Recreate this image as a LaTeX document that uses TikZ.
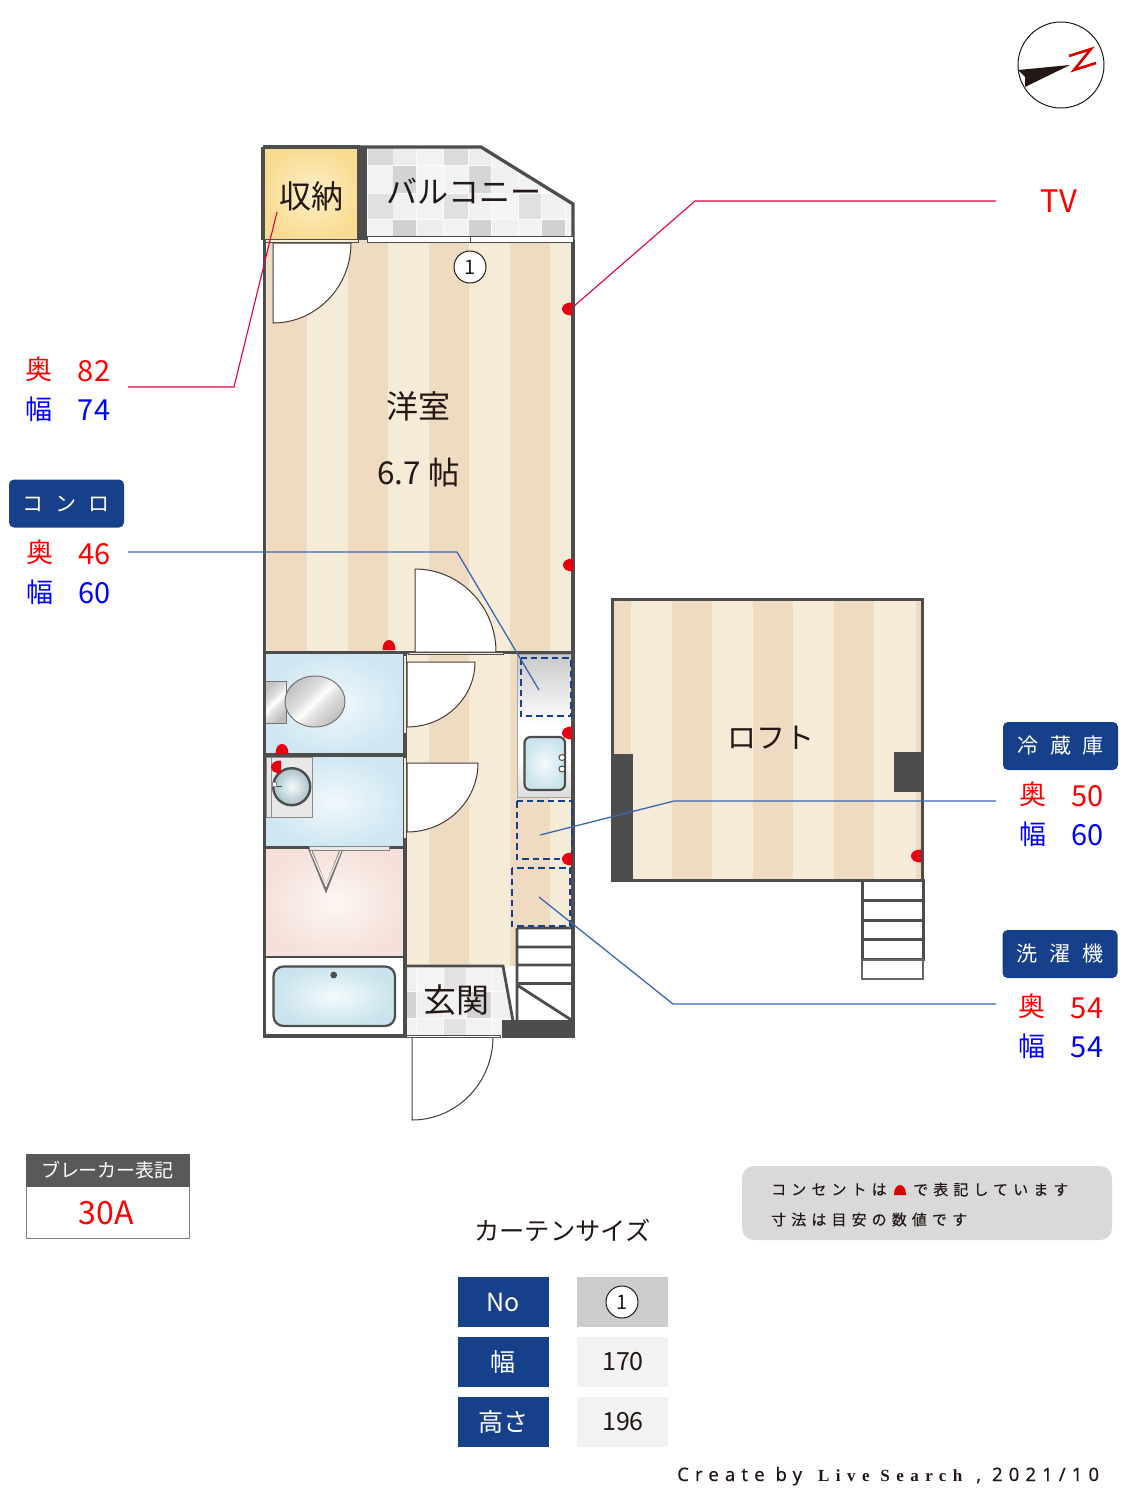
\documentclass[tikz,border=0pt]{standalone}
\usepackage{fontspec}
\setmainfont{Noto Sans CJK JP}
\newfontfamily\trackfont[LetterSpace=34,FakeBold=0.35]{Noto Sans CJK JP}
\newfontfamily\creditsans[LetterSpace=33,FakeBold=0.3]{Noto Sans}
\newfontfamily\creditserif[LetterSpace=38]{Liberation Serif}
\usetikzlibrary{calc}
\definecolor{walls}{HTML}{4D4D4D}
\definecolor{stripeA}{HTML}{F6EBD7}
\definecolor{stripeB}{HTML}{EFDBC1}
\definecolor{navy}{HTML}{17408B}
\definecolor{leadR}{HTML}{E6003C}
\definecolor{leadB}{HTML}{3A68B0}
\definecolor{ink}{HTML}{231815}
\definecolor{socket}{HTML}{E60012}
\definecolor{skyA}{HTML}{F0F8FC}
\definecolor{skyB}{HTML}{CFE7F2}
\definecolor{tubA}{HTML}{F4FAFC}
\definecolor{tubB}{HTML}{C9E4EC}
\definecolor{pinkA}{HTML}{FCF7F3}
\definecolor{pinkB}{HTML}{F5E1D9}
\definecolor{goldA}{HTML}{FCEFC8}
\definecolor{goldB}{HTML}{F9DC92}
\pgfdeclarehorizontalshading{metal}{100bp}{color(0bp)=(black!24); color(25bp)=(black!24); color(42bp)=(black!12); color(50bp)=(white); color(58bp)=(black!12); color(75bp)=(black!26); color(100bp)=(black!26)}
\pgfdeclareverticalshading{counter}{100bp}{color(0bp)=(black!14); color(25bp)=(black!14); color(38bp)=(white); color(50bp)=(white); color(60bp)=(black!8); color(75bp)=(black!22); color(100bp)=(black!22)}
\newcommand\fs[1]{\fontsize{#1}{#1}\selectfont}
% quarter-circle door leaf: hinge x, y, radius x, radius y
\newcommand\qdoor[4]{\draw[doorleaf] (#1,#2) -- (#1,#2+#4) .. controls (#1+0.552*#3,#2+#4) and (#1+#3,#2+0.552*#4) .. (#1+#3,#2) -- cycle;}
% socket with flat side on the right: x of flat, y centre
\newcommand\sockR[2]{\fill[socket] (#1,#2-6.5) .. controls (#1-6,#2-6.5) and (#1-10,#2-4) .. (#1-10,#2) .. controls (#1-10,#2+4) and (#1-6,#2+6.5) .. (#1,#2+6.5) -- cycle;}
% socket with flat side at the bottom: x centre, y of flat
\newcommand\sockB[2]{\fill[socket] (#1-6.5,#2) .. controls (#1-6.5,#2-6) and (#1-4,#2-10) .. (#1,#2-10) .. controls (#1+4,#2-10) and (#1+6.5,#2-6) .. (#1+6.5,#2) -- cycle;}
\tikzset{
  wall/.style={draw=walls,line width=3.3pt},
  thinwall/.style={draw=walls,line width=2.8pt},
  doorleaf/.style={draw=ink!85,fill=white,line width=1pt},
  slab/.style={draw=walls,fill=stripeA,line width=1pt},
  dashbox/.style={draw=navy,line width=2.3pt,dash pattern=on 6.5pt off 4pt},
  leadred/.style={draw=leadR,line width=1.1pt},
  leadblue/.style={draw=leadB,line width=1.3pt},
  room/.style={text=ink,inner sep=0pt},
  dimred/.style={text=red,inner sep=0pt},
  dimblue/.style={text=blue,inner sep=0pt},
  badge/.style={fill=navy,text=white,rounded corners=5pt,minimum width=115pt,minimum height=48pt,inner sep=0pt,font=\fs{21}},
  cellhead/.style={fill=navy,text=white,minimum width=91pt,minimum height=50pt,inner sep=0pt,font=\fs{25}},
  cellval/.style={fill=black!5,text=ink,minimum width=91pt,minimum height=50pt,inner sep=0pt,font=\fs{25}},
  ringmark/.style={circle,draw=ink,fill=white,line width=1pt,minimum size=32pt,inner sep=0pt,text=ink,font=\fs{20}},
  stairs/.style={draw=walls,fill=white,line width=3pt},
}
\begin{document}
\begin{tikzpicture}[x=1pt,y=-1pt]
\useasboundingbox (0,0) rectangle (1125,1500);
\fill[white] (0,0) rectangle (1125,1500);

% ---------- main floor stripes
\fill[stripeA] (264,240) rectangle (573,652);
\fill[stripeA] (405,652) rectangle (573,966);
\foreach \s in {267,348,429,510} \fill[stripeB] (\s,240) rectangle (\s+40,652);
\foreach \s in {429,510} \fill[stripeB] (\s,652) rectangle (\s+40,966);

% ---------- closet
\fill[inner color=goldA,outer color=goldB] (263,147) rectangle (360,240);

% ---------- balcony tiles
\begin{scope}
\clip (366,148) -- (481,148) -- (573,204) -- (573,236) -- (366,236) -- cycle;
\fill[black!2] (366,146) rectangle (575,238);
\foreach \xa/\xb/\ya/\yb/\sh in {
 368/393/147/165/15, 393/416/147/165/7, 417/443/147/165/5, 444/468/147/165/14, 469/491/147/165/7, 492/518/147/165/5,
 368/393/166/193/5, 393/416/166/193/17, 417/443/166/193/4, 444/468/166/193/5, 469/491/166/193/16, 492/518/166/193/6, 519/541/166/193/5,
 368/393/194/219/12, 393/416/194/219/6, 417/443/194/219/5, 444/468/194/219/12, 469/491/194/219/6, 492/518/194/219/4, 519/541/194/219/12, 542/565/194/219/6, 566/575/194/219/5,
 368/393/220/236/5, 393/416/220/236/18, 417/443/220/236/7, 444/468/220/236/5, 469/491/220/236/18, 492/518/220/236/6, 519/541/220/236/5, 542/565/220/236/18, 566/575/220/236/5
 }{\fill[black!\sh] (\xa,\ya) rectangle (\xb,\yb);}
\end{scope}
\draw[wall] (358,147) -- (481,147) -- (573,204) -- (573,240);
\draw[wall] (263,147) -- (360,147);
\draw[wall] (263,147) -- (263,240);
\fill[walls] (357,146) rectangle (367,240);

% ---------- wet rooms
\fill[inner color=skyA,outer color=skyB] (264,652) rectangle (405,755);
\fill[inner color=skyA,outer color=skyB] (264,755) rectangle (405,848);
\fill[inner color=pinkA,outer color=pinkB] (264,848) rectangle (405,957);
\fill[white] (264,957) rectangle (405,1036);

% toilet
\draw[draw=black!55,line width=1pt,shading=metal,shading angle=-45] (264,681) rectangle (286,723);
\draw[draw=black!55,line width=1pt,shading=metal,shading angle=-45] (315,701.5) ellipse [x radius=30,y radius=25.5];

% wash basin
\fill[black!9] (266,757) rectangle (312,817);
\draw[black!45,line width=.8pt] (266,757) rectangle (312,817) (271.5,757) -- (271.5,817);
\draw[walls,line width=2.4pt,inner color=tubA,outer color=tubB!85!black] (291.7,786.7) circle [radius=18.5];
\draw[walls,line width=1.4pt] (274,786.7) -- (282,786.7);
\fill[white,draw=black!45,line width=.5pt] (272,782) rectangle (276,786);

% tub
\draw[walls,line width=2.2pt,rounded corners=10pt,inner color=tubA,outer color=tubB] (273.5,966.5) rectangle (395,1026);
\fill[walls] (333.7,975) circle [radius=3.4];

% folding door
\draw[black!55,line width=3.4pt,line join=miter] (309.5,848) -- (326,889) -- (342,848);
\draw[pinkB!60!white,line width=1.2pt,line join=miter] (309.5,848) -- (326,886) -- (342,848);

% ---------- kitchen counter
\draw[draw=black!35,line width=1pt,shading=counter] (517,654) rectangle (571.5,797);
\draw[walls,line width=2.2pt,rounded corners=6pt,inner color=tubA,outer color=tubB] (524.5,737) rectangle (565,790);
\draw[walls,fill=white,line width=1pt] (562,757.5) circle [radius=3] (562,769) circle [radius=3];

% ---------- genkan
\begin{scope}
\clip (406,966) -- (503,966) -- (514,1021) -- (503,1036) -- (406,1036) -- cycle;
\fill[black!2] (406,960) rectangle (520,1040);
\foreach \xa/\xb/\ya/\yb/\sh in {
 407/416/968/991/6, 417/443/968/991/4, 444/466/968/991/11, 467/491/968/991/5, 492/516/968/991/5,
 407/416/992/1018/17, 417/443/992/1018/6, 444/466/992/1018/5, 467/491/992/1018/17, 492/516/992/1018/6,
 407/416/1019/1036/5, 417/443/1019/1036/5, 444/466/1019/1036/11, 467/491/1019/1036/5, 492/516/1019/1036/4
 }{\fill[black!\sh] (\xa,\ya) rectangle (\xb,\yb);}
\end{scope}
\draw[thinwall] (406,966) -- (503,966) -- (513,1021);

% ---------- kitchen stairs
\fill[white] (517,928) rectangle (573,1020);
\draw[walls,line width=2.8pt] (517,928) -- (573,928) (517,947) -- (573,947) (517,965) -- (573,965) (517,983.5) -- (573,983.5) (517,928) -- (517,1021) (517,985) -- (573,1021);
\fill[walls] (502,1020) rectangle (575,1038);

% ---------- walls of the main floor
\draw[wall] (264.5,240) -- (264.5,1036);
\draw[wall] (573,240) -- (573,1036);
\draw[wall] (264,652.5) -- (573,652.5);
\draw[wall] (264,755) -- (405,755);
\draw[wall] (264,847.5) -- (405,847.5);
\draw[thinwall] (264,957) -- (405,957);
\draw[wall] (405,652) -- (405,1036);
\draw[wall] (262.5,1036) -- (406,1036);
\draw[draw=black!50,fill=white!92!black,line width=.8pt] (309,846) rectangle (389,850);

% ---------- doors
\qdoor{273}{243}{78}{80}
\qdoor{415}{652}{81}{-83}
\qdoor{407}{662}{68}{65}
\qdoor{407}{763}{71}{69}
\qdoor{412}{1037}{81}{83}
\draw[slab] (265,239.5) rectangle (358,242);
\draw[slab] (408,652) rectangle (503,654.5);
\draw[slab] (403.8,655) rectangle (406.8,733);
\draw[slab] (403.8,757) rectangle (406.8,838);
\draw[draw=walls,fill=white,line width=1pt] (406,1035) rectangle (500,1037.5);

% window
\draw[draw=walls,fill=white,line width=.9pt] (367,236) rectangle (573,242);
\draw[walls,line width=.9pt] (470,236) -- (470,242);

% ---------- loft
\fill[stripeA] (612,598) rectangle (924,881);
\foreach \s in {591,672,753,834,916} \fill[stripeB] ({max(\s,613)},598) rectangle ({min(\s+40,923)},881);
\draw[wall] (612.5,599.5) rectangle (922.5,880.5);
\fill[walls] (611,754) rectangle (633,882);
\fill[walls] (894,752) rectangle (924,792);
\draw[stairs] (862,880) rectangle (923,900) (862,900) rectangle (923,920) (862,920) rectangle (923,939.5) (862,939.5) rectangle (923,959.5);
\draw[draw=black!60,fill=white,line width=2pt] (862,959.5) rectangle (923,979);

% ---------- dashed appliance boxes
\draw[dashbox] (520.7,658) rectangle (570.7,716);
\draw[dashbox] (517,801) rectangle (572,859);
\draw[dashbox] (512,868) rectangle (570,926);

% ---------- sockets
\sockR{572}{309}
\sockR{573}{565}
\sockB{389}{650}
\sockR{572}{733}
\sockB{282}{754}
\sockR{281}{767}
\sockR{572}{859}
\sockR{921}{856}

% ---------- compass
\draw[ink,line width=1pt] (1061,65) circle [radius=43];
\fill[ink] (1070,65) -- (1018,70) -- (1025,77) -- (1025,87) -- cycle;
\draw[red!85!black,line width=2.6pt,line join=miter] (1069,56) -- (1091,49) -- (1074,70) -- (1096,63);

% ---------- room names
\node[room,font=\fs{32}] (closet) at (311.5,196) {収納};
\node[room,font=\fs{31}] (balcony) at (464,191) {バルコニー};
\node[ringmark] (ring) at (470,267) {1};
\node[room,font=\fs{32}] (western) at (418,406) {洋室};
\node[room,font=\fs{31.5}] (size) at (418.5,473) {6.7 帖};
\node[room,font=\fs{33}] (entry) at (456,1000) {玄関};
\node[room,font=\fs{29}] (loft) at (770.5,738) {ロフト};

% ---------- dimension labels
\node[dimred,font=\fs{27}] (a1) at (39,369) {奥};
\node[dimred,font=\fs{29}] (a2) at (94,371) {82};
\node[dimblue,font=\fs{27}] (a3) at (38.5,409) {幅};
\node[dimblue,font=\fs{29}] (a4) at (94,410) {74};

\node[badge] (stove) at (66.5,503.5) {コ\hspace{12pt}ン\hspace{12pt}ロ};
\node[dimred,font=\fs{27}] (b1) at (40,552) {奥};
\node[dimred,font=\fs{29}] (b2) at (94.5,554) {46};
\node[dimblue,font=\fs{27}] (b3) at (39.5,592) {幅};
\node[dimblue,font=\fs{29}] (b4) at (94.5,593) {60};

\node[room,text=red,font=\fs{31}] (tv) at (1059,201) {TV};

\node[badge] (fridge) at (1060.5,746) {冷\hspace{12pt}蔵\hspace{12pt}庫};
\node[dimred,font=\fs{27}] (c1) at (1033,794) {奥};
\node[dimred,font=\fs{29}] (c2) at (1087.5,796) {50};
\node[dimblue,font=\fs{27}] (c3) at (1032.5,834) {幅};
\node[dimblue,font=\fs{29}] (c4) at (1087.5,835) {60};

\node[badge] (washer) at (1060,954) {洗\hspace{12pt}濯\hspace{12pt}機};
\node[dimred,font=\fs{27}] (d1) at (1032,1006) {奥};
\node[dimred,font=\fs{29}] (d2) at (1087,1008) {54};
\node[dimblue,font=\fs{27}] (d3) at (1031.5,1046) {幅};
\node[dimblue,font=\fs{29}] (d4) at (1087,1047) {54};

% ---------- leaders
\coordinate (k1) at (128,387);
\coordinate (k2) at (234,387);
\coordinate (k3) at (277,212);
\draw[leadred] (k1) -- (k2) -- (k3);
\coordinate (t1) at (573,307);
\coordinate (t2) at (695,201);
\coordinate (t3) at (996,201);
\draw[leadred] (t1) -- (t2) -- (t3);
\coordinate (s1) at (128,552);
\coordinate (s2) at (457,552);
\coordinate (s3) at (539,690);
\draw[leadblue] (s1) -- (s2) -- (s3);
\coordinate (f1) at (996,801);
\coordinate (f2) at (674,801);
\coordinate (f3) at (540,835);
\draw[leadblue] (f1) -- (f2) -- (f3);
\coordinate (w1) at (996,1004);
\coordinate (w2) at (673,1004);
\coordinate (w3) at (539,897);
\draw[leadblue] (w1) -- (w2) -- (w3);

% ---------- breaker box
\draw[draw=black!50,fill=white,line width=1pt] (26.5,1154.5) rectangle (189,1238);
\fill[black!65] (26,1154) rectangle (189.5,1187);
\node[text=white,inner sep=0pt,font=\fs{19}] (brk) at (107.5,1170.5) {ブレーカー表記};
\node[text=red,inner sep=0pt,font=\fs{32}] (amp) at (106,1213) {30A};

% ---------- note
\fill[black!15,rounded corners=12pt] (742,1166) rectangle (1112,1240);
\node[anchor=west,text=ink,inner sep=0pt,font=\fs{15}\trackfont] (n1) at (771,1189.5) {コンセントは};
\fill[red!85!black] (894,1195) .. controls (894,1188) and (897,1185) .. (900,1185) .. controls (903,1185) and (906,1188) .. (906,1195) -- cycle;
\node[anchor=west,text=ink,inner sep=0pt,font=\fs{15}\trackfont] (n2) at (913,1189.5) {で表記しています};
\node[anchor=west,text=ink,inner sep=0pt,font=\fs{15}\trackfont] (n3) at (771,1219.5) {寸法は目安の数値です};

% ---------- curtain table
\node[room,font=\fs{25.3}] (cttl) at (562.5,1230) {カーテンサイズ};
\node[cellhead] (h1) at (503,1302) {No};
\node[cellhead] (h2) at (503,1361.5) {幅};
\node[cellhead] (h3) at (503,1421.5) {高さ};
\node[cellval,fill=black!20] (v1) at (622,1302) {};
\node[ringmark] (v1r) at (622,1302) {1};
\node[cellval] (v2) at (622,1361.5) {\hspace{2pt}170};
\node[cellval] (v3) at (622,1421.5) {\hspace{2pt}196};

% ---------- credit
\node[anchor=base west,text=ink,inner sep=0pt,font=\fs{18.5}\creditsans] (cr1) at (677,1481) {Create by};
\node[anchor=base west,text=ink,inner sep=0pt,font=\fs{17}\creditserif\bfseries] (cr2) at (818,1481) {Live Search};
\node[anchor=base west,text=ink,inner sep=0pt,font=\fs{18.5}\creditsans] (cr3) at (976,1481) {, 2021/10};
\end{tikzpicture}
\end{document}
